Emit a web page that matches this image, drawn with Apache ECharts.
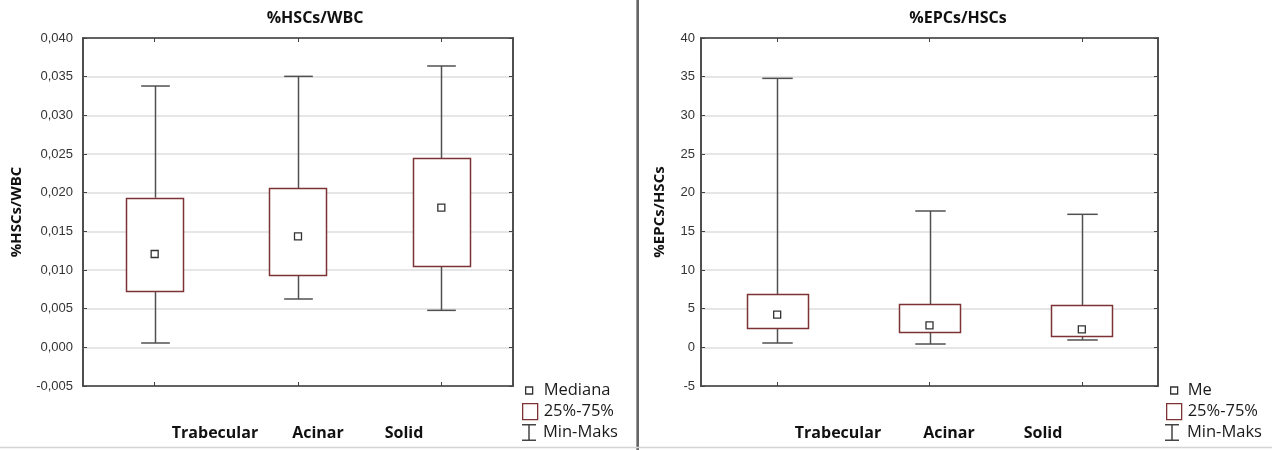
<!DOCTYPE html>
<html>
<head>
<meta charset="utf-8">
<script src="https://cdn.jsdelivr.net/npm/echarts@6/dist/echarts.min.js"></script>
<style>html,body{margin:0;padding:0;background:#fff;}#c{width:1272px;height:450px;}</style>
</head>
<body>
<div id="c"></div>
<script>
// ---- data ----
const categories = ['Trabecular', 'Acinar', 'Solid'];
// left chart: %HSCs/WBC
const hscMin = [0.00056, 0.00625, 0.00478];
const hscQ1 = [0.00728, 0.00935, 0.01047];
const hscMedian = [0.01207, 0.01435, 0.01806];
const hscQ3 = [0.01935, 0.02056, 0.02448];
const hscMax = [0.03379, 0.03504, 0.03638];
// right chart: %EPCs/HSCs
const epcMin = [0.56, 0.43, 0.95];
const epcQ1 = [2.46, 1.98, 1.42];
const epcMedian = [4.22, 2.84, 2.33];
const epcQ3 = [6.85, 5.56, 5.47];
const epcMax = [34.78, 17.63, 17.2];
const titles = ['%HSCs/WBC', '%EPCs/HSCs'];
const medianNames = ['Mediana', 'Me'];
const boxName = '25%-75%';
const whiskerName = 'Min-Maks';

// ---- layout / style ----
const BOX_COLOR = '#7d3333';
const WHISK_COLOR = '#505050';
const FONT_BOLD = '"Open Sans", "Noto Sans", sans-serif';
const FONT_AX = '"Liberation Sans", Arial, sans-serif';
const grids = [
  {left: 83, top: 38, width: 430, height: 348},
  {left: 701, top: 38, width: 457, height: 348}
];
const catLabelX = [[215, 318, 404], [838, 949, 1043]];
const legendX = [{med: 525, box: 522, wh: 522, medPad: 6, boxPad: 1, whPad: 2},
                 {med: 1170, box: 1166, wh: 1165, medPad: 5, boxPad: 1, whPad: 3}];

const chart = echarts.init(document.getElementById('c'), null, {renderer: 'canvas'});

function boxData(q1, q3) { return categories.map((c, i) => [i, q1[i], q3[i]]); }
function whiskData(mn, q1, q3, mx) { return categories.map((c, i) => [i, mn[i], q1[i], q3[i], mx[i]]); }

function renderBox(params, api) {
  const x = api.value(0);
  const p1 = api.coord([x, api.value(1)]);
  const p3 = api.coord([x, api.value(2)]);
  const bw = api.size([1, 0])[0] * 0.4;
  return {
    type: 'rect',
    shape: {x: Math.round(p1[0] - bw / 2) + 0.5, y: Math.round(p3[1]) + 0.5, width: Math.round(bw), height: Math.round(p1[1] - p3[1])},
    style: {fill: '#fff', stroke: BOX_COLOR, lineWidth: 1.5}
  };
}
function renderWhisk(params, api) {
  const x = api.value(0);
  const pMin = api.coord([x, api.value(1)]);
  const pQ1 = api.coord([x, api.value(2)]);
  const pQ3 = api.coord([x, api.value(3)]);
  const pMax = api.coord([x, api.value(4)]);
  const cw = api.size([1, 0])[0] * 0.2;
  const cx = Math.round(pMin[0]) + 0.5;
  const st = {stroke: WHISK_COLOR, lineWidth: 1.5};
  return {
    type: 'group',
    children: [
      {type: 'line', shape: {x1: cx, y1: pMin[1], x2: cx, y2: pQ1[1]}, style: st},
      {type: 'line', shape: {x1: cx, y1: pQ3[1], x2: cx, y2: pMax[1]}, style: st},
      {type: 'line', shape: {x1: cx - cw / 2, y1: pMin[1], x2: cx + cw / 2, y2: pMin[1]}, style: st},
      {type: 'line', shape: {x1: cx - cw / 2, y1: pMax[1], x2: cx + cw / 2, y2: pMax[1]}, style: st}
    ]
  };
}

const yCfg = [
  {min: -0.005, max: 0.04, interval: 0.005, fmt: v => v.toFixed(3).replace('.', ','), gap: 59, margin: 10},
  {min: -5, max: 40, interval: 5, fmt: v => String(Math.round(v)), gap: 34, margin: 6}
];

const xAxes = [], yAxes = [], series = [], legends = [], titleArr = [], graphics = [];
const sets = [
  {mn: hscMin, q1: hscQ1, me: hscMedian, q3: hscQ3, mx: hscMax},
  {mn: epcMin, q1: epcQ1, me: epcMedian, q3: epcQ3, mx: epcMax}
];
const whiskIcon = 'path://M0,0 H14 V1.5 H7.75 V15.5 H14 V17 H0 V15.5 H6.25 V1.5 H0 Z';

sets.forEach((s, g) => {
  ['bottom', 'top'].forEach(pos => {
    xAxes.push({
      type: 'category', gridIndex: g, data: categories, position: pos,
      boundaryGap: true,
      axisLine: {show: true, onZero: false, lineStyle: {color: '#444', width: 1.5}},
      axisTick: {show: true, inside: true, alignWithLabel: true, length: 4, lineStyle: {color: '#444'}},
      axisLabel: {show: false}, splitLine: {show: false}
    });
  });
  const yc = yCfg[g];
  yAxes.push({
    type: 'value', gridIndex: g, min: yc.min, max: yc.max, interval: yc.interval, position: 'left',
    name: titles[g], nameLocation: 'middle', nameGap: yc.gap,
    nameTextStyle: {fontFamily: FONT_BOLD, fontWeight: 'bold', fontSize: 15, color: '#111'},
    axisLine: {show: true, onZero: false, lineStyle: {color: '#444', width: 1.5}},
    axisTick: {show: true, inside: true, length: 4, lineStyle: {color: '#444'}},
    axisLabel: {formatter: yc.fmt, fontFamily: FONT_AX, fontSize: 13, color: '#333', margin: yc.margin},
    splitLine: {show: true, lineStyle: {color: '#dedede', width: 1.5}}
  });
  yAxes.push({
    type: 'value', gridIndex: g, min: yc.min, max: yc.max, interval: yc.interval, position: 'right',
    axisLine: {show: true, onZero: false, lineStyle: {color: '#444', width: 1.5}},
    axisTick: {show: true, inside: true, length: 4, lineStyle: {color: '#444'}},
    axisLabel: {show: false}, splitLine: {show: false}
  });
  const xi = g * 2, yi = g * 2;
  series.push({
    name: whiskerName, type: 'custom', xAxisIndex: xi, yAxisIndex: yi, z: 2,
    renderItem: renderWhisk, data: whiskData(s.mn, s.q1, s.q3, s.mx),
    itemStyle: {color: WHISK_COLOR}, encode: {x: 0, y: [1, 2, 3, 4]}, silent: true
  });
  series.push({
    name: boxName, type: 'custom', xAxisIndex: xi, yAxisIndex: yi, z: 3,
    renderItem: renderBox, data: boxData(s.q1, s.q3),
    itemStyle: {color: '#fff', borderColor: BOX_COLOR}, encode: {x: 0, y: [1, 2]}, silent: true
  });
  series.push({
    name: medianNames[g], type: 'scatter', xAxisIndex: xi, yAxisIndex: yi, z: 4,
    symbol: 'rect', symbolSize: 7,
    itemStyle: {color: '#fff', borderColor: '#333', borderWidth: 1.3, opacity: 1},
    data: s.me.map((v, i) => [i, v]), silent: true
  });
  const lx = legendX[g];
  const txt = {fontFamily: FONT_BOLD, fontSize: 16.5, color: '#1a1a1a', lineHeight: 16};
  legends.push({
    data: [medianNames[g]], left: lx.med, top: 382, orient: 'vertical', padding: 0,
    selectedMode: false, icon: 'rect', itemWidth: 7, itemHeight: 7,
    itemStyle: {color: '#fff', borderColor: '#333', borderWidth: 1.3},
    textStyle: Object.assign({padding: [0, 0, 0, lx.medPad]}, txt)
  });
  legends.push({
    data: [boxName], left: lx.box, top: 403, orient: 'vertical', padding: 0,
    selectedMode: false, icon: 'rect', itemWidth: 15, itemHeight: 16,
    itemStyle: {color: '#fff', borderColor: BOX_COLOR, borderWidth: 1.3},
    textStyle: Object.assign({padding: [0, 0, 0, lx.boxPad]}, txt)
  });
  legends.push({
    data: [whiskerName], left: lx.wh, top: 424, orient: 'vertical', padding: 0,
    selectedMode: false, icon: whiskIcon, itemWidth: 14, itemHeight: 17,
    itemStyle: {color: '#444', borderWidth: 0},
    textStyle: Object.assign({padding: [0, 0, 0, lx.whPad]}, txt)
  });
  titleArr.push({
    text: titles[g], left: g === 0 ? 315 : 958, top: 10, textAlign: 'center', padding: 0,
    textStyle: {fontFamily: FONT_BOLD, fontWeight: 'bold', fontSize: 16, color: '#111'}
  });
  categories.forEach((c, i) => {
    graphics.push({
      type: 'text', x: catLabelX[g][i], y: 433,
      style: {text: c, fontFamily: FONT_BOLD, fontWeight: 'bold', fontSize: 16, fill: '#111', align: 'center', verticalAlign: 'middle'}
    });
  });
});

// separators
graphics.push({type: 'line', shape: {x1: 636.5, y1: 0, x2: 636.5, y2: 450}, style: {stroke: '#9a9a9a', lineWidth: 1}});
graphics.push({type: 'line', shape: {x1: 638, y1: 0, x2: 638, y2: 450}, style: {stroke: '#333', lineWidth: 1.5}});
graphics.push({type: 'line', shape: {x1: 0, y1: 447.5, x2: 1272, y2: 447.5}, style: {stroke: '#d4d4d4', lineWidth: 1.5}});

chart.setOption({
  animation: false,
  backgroundColor: '#fff',
  title: titleArr,
  grid: grids.map(g => Object.assign({show: true, borderColor: '#444', borderWidth: 1.5, backgroundColor: 'transparent'}, g)),
  xAxis: xAxes,
  yAxis: yAxes,
  legend: legends,
  series: series,
  graphic: graphics
});
</script>
</body>
</html>
